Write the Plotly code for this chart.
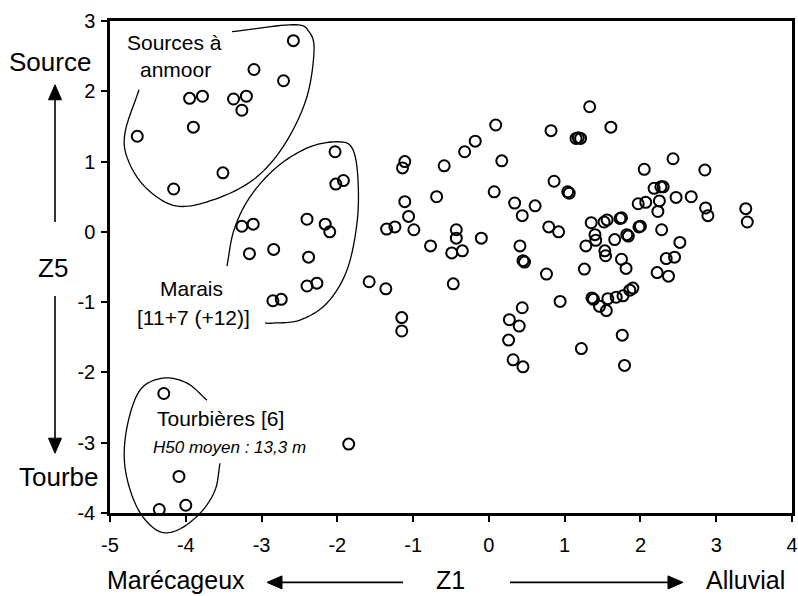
import plotly.graph_objects as go
import numpy as np

# ---- data (Z1, Z5) ----
sources_z1 = [-2.58, -3.10, -2.71, -3.95, -3.78, -3.37, -3.20, -3.26, -3.90, -4.64, -3.51, -4.16]
sources_z5 = [2.72, 2.31, 2.15, 1.90, 1.93, 1.89, 1.93, 1.73, 1.49, 1.36, 0.84, 0.61]

marais_z1 = [-2.03, -2.02, -1.92, -3.26, -3.11, -2.40, -2.16, -2.10, -3.16, -2.84, -2.38, -2.40, -2.27, -2.85, -2.74]
marais_z5 = [1.14, 0.68, 0.73, 0.08, 0.11, 0.18, 0.11, 0.00, -0.31, -0.25, -0.36, -0.77, -0.73, -0.98, -0.96]

tourb_z1 = [-4.29, -4.09, -4.00, -4.35, -1.85]
tourb_z5 = [-2.30, -3.48, -3.89, -3.95, -3.02]

other_z1 = [-1.11, -1.14, -0.59, -0.32, -0.18, 0.09, -1.11, -0.69, -1.06, -1.35, -1.24, -0.99, -0.77, -0.43,
            -0.43, -0.10, -0.49, -0.35, -1.58, -1.36, -0.47, -1.15, -1.15,
            1.33, 0.82, 1.61, 1.15, 1.18, 1.21, 0.17, 0.86, 1.04, 1.06, 0.07, 0.34, 0.61, 0.44, 0.79, 0.92,
            1.35, 1.52, 1.56, 1.73, 1.75,
            0.41, 0.45, 0.47, 1.40, 1.41, 1.28, 1.66, 1.82, 1.53, 1.54, 1.75, 1.81, 0.76, 1.26, 0.94, 0.44,
            0.27, 0.40, 0.26, 0.32, 0.45, 1.22, 1.36, 1.38, 1.46, 1.55, 1.57, 1.68, 1.77, 1.86, 1.76, 1.79,
            2.43, 2.05, 2.85, 2.18, 2.27, 2.30, 2.25, 2.47, 2.67, 1.97, 2.07, 2.23, 2.86, 2.89, 3.39, 3.41,
            1.98, 2.00, 1.84, 2.28, 2.52, 2.34, 2.45, 2.22, 2.37, 1.90]
other_z5 = [1.00, 0.91, 0.94, 1.14, 1.29, 1.52, 0.43, 0.50, 0.22, 0.04, 0.07, 0.03, -0.20, 0.03,
            -0.09, -0.09, -0.30, -0.27, -0.71, -0.81, -0.74, -1.22, -1.41,
            1.78, 1.44, 1.49, 1.33, 1.34, 1.33, 1.01, 0.72, 0.57, 0.55, 0.57, 0.41, 0.37, 0.23, 0.07, 0.00,
            0.13, 0.14, 0.17, 0.19, 0.20,
            -0.20, -0.41, -0.43, -0.04, -0.12, -0.20, -0.11, -0.04, -0.27, -0.34, -0.39, -0.52, -0.60, -0.53, -0.99, -1.08,
            -1.25, -1.34, -1.54, -1.82, -1.92, -1.66, -0.94, -0.96, -1.06, -1.12, -0.95, -0.93, -0.91, -0.83, -1.47, -1.90,
            1.04, 0.89, 0.88, 0.62, 0.64, 0.64, 0.44, 0.49, 0.50, 0.40, 0.42, 0.29, 0.34, 0.23, 0.33, 0.14,
            0.07, 0.08, -0.06, 0.03, -0.15, -0.38, -0.36, -0.58, -0.63, -0.80]

x_ticks = [-5, -4, -3, -2, -1, 0, 1, 2, 3, 4]
y_ticks = [-4, -3, -2, -1, 0, 1, 2, 3]

# ---- layout helpers (reference pixel -> paper) ----
L, R, T, B = 110, 792, 21.3, 512.7
def P(px, py):
    return (px - L) / (R - L), (B - py) / (B - T)

def spline_path(pts, n=12):
    pts = np.array(pts, float)
    ext = np.vstack([2 * pts[0] - pts[1], pts, 2 * pts[-1] - pts[-2]])
    out = []
    for i in range(1, len(ext) - 2):
        p0, p1, p2, p3 = ext[i - 1], ext[i], ext[i + 1], ext[i + 2]
        for t in np.linspace(0, 1, n, endpoint=False):
            t2, t3 = t * t, t * t * t
            q = 0.5 * ((2 * p1) + (-p0 + p2) * t + (2 * p0 - 5 * p1 + 4 * p2 - p3) * t2 + (-p0 + 3 * p1 - 3 * p2 + p3) * t3)
            out.append(q)
    out.append(ext[-2])
    s = ""
    for k, (px, py) in enumerate(out):
        x, y = P(px, py)
        s += ("M" if k == 0 else "L") + f"{x:.5f},{y:.5f} "
    return s

curve_sources = [(232, 32), (293, 25), (309, 32), (314, 52), (306, 100), (283, 147), (253, 180), (213, 200),
                 (176, 206), (146, 188), (128, 160), (125, 133), (139, 90)]
curve_marais = [(227, 266), (234, 230), (250, 197), (277, 167), (310, 147), (340, 142), (353, 150), (358, 180),
                (357, 223), (347, 270), (327, 303), (300, 320), (273, 323), (265, 323)]
curve_tourb = [(207, 400), (187, 383), (163, 378), (140, 390), (127, 427), (125, 467), (137, 507), (157, 530),
               (177, 530), (200, 513), (215, 490), (220, 463)]

fig = go.Figure()
allx = sources_z1 + marais_z1 + tourb_z1 + other_z1
ally = sources_z5 + marais_z5 + tourb_z5 + other_z5
fig.add_trace(go.Scatter(x=allx, y=ally, mode="markers",
                         marker=dict(symbol="circle-open", size=11, color="black", line=dict(width=2, color="black")),
                         showlegend=False, cliponaxis=False))

shapes = []
for c in (curve_sources, curve_marais, curve_tourb):
    shapes.append(dict(type="path", xref="paper", yref="paper", path=spline_path(c),
                       line=dict(color="black", width=1.3)))

def arrow(x0, y0, x1, y1, head=15, half=6.5):
    d = np.array([x1 - x0, y1 - y0], float)
    d /= np.linalg.norm(d)
    nrm = np.array([-d[1], d[0]])
    base = np.array([x1, y1]) - d * head
    a = base + nrm * half
    b = base - nrm * half
    lx0, ly0 = P(x0, y0)
    lx1, ly1 = P(*base)
    shapes.append(dict(type="line", xref="paper", yref="paper", x0=lx0, y0=ly0, x1=lx1, y1=ly1,
                       line=dict(color="black", width=1.6)))
    tp = P(x1, y1); pa = P(*a); pb = P(*b)
    shapes.append(dict(type="path", xref="paper", yref="paper",
                       path=f"M{tp[0]:.5f},{tp[1]:.5f} L{pa[0]:.5f},{pa[1]:.5f} L{pb[0]:.5f},{pb[1]:.5f} Z",
                       fillcolor="black", line=dict(color="black", width=1)))

arrow(55, 222, 55, 85)
arrow(55, 296, 55, 453)
arrow(403, 582, 267, 582)
arrow(510, 582, 683, 582)

fig.update_layout(shapes=shapes)

FONT = "Liberation Sans, Arial, sans-serif"
def txt(s, px, py, size, italic=False):
    x, y = P(px, py)
    if italic:
        s = f"<i>{s}</i>"
    fig.add_annotation(text=s, x=x, y=y, xref="paper", yref="paper", showarrow=False,
                       xanchor="center", yanchor="middle", borderpad=0,
                       font=dict(family=FONT, size=size, color="black"))

txt("Sources à", 174, 43, 21)
txt("anmoor", 175, 70, 21)
txt("Marais", 191, 288, 21)
txt("[11+7 (+12)]", 193, 317, 21)
txt("Tourbières [6]", 220, 418, 21)
txt("H50 moyen : 13,3 m", 229, 447, 17, italic=True)
txt("Source", 50, 62, 26)
txt("Z5", 53, 268, 26)
txt("Tourbe", 59, 477, 26)
txt("Marécageux", 176, 580, 25)
txt("Z1", 450, 580, 25)
txt("Alluvial", 745, 580, 25)

axis_common = dict(showgrid=False, zeroline=False, showline=True, linecolor="black", linewidth=2.5,
                   mirror=True, ticks="outside", ticklen=6, tickwidth=2, tickcolor="black",
                   tickfont=dict(family=FONT, size=20, color="black"))
fig.update_xaxes(range=[-5, 4], tickvals=x_ticks, ticktext=[str(v) for v in x_ticks],
                 ticklabelstandoff=6, **axis_common)
fig.update_yaxes(range=[-4, 3], tickvals=y_ticks, ticktext=[str(v) for v in y_ticks],
                 ticklabelstandoff=2, **axis_common)

fig.update_layout(width=798, height=596, margin=dict(l=110, r=6, t=21, b=83, autoexpand=False),
                  plot_bgcolor="white", paper_bgcolor="white", showlegend=False,
                  font=dict(family=FONT, color="black"))
fig.write_html("out.html", config={"displayModeBar": False},
               post_script="document.body.style.margin='0';document.body.style.overflow='hidden';")
